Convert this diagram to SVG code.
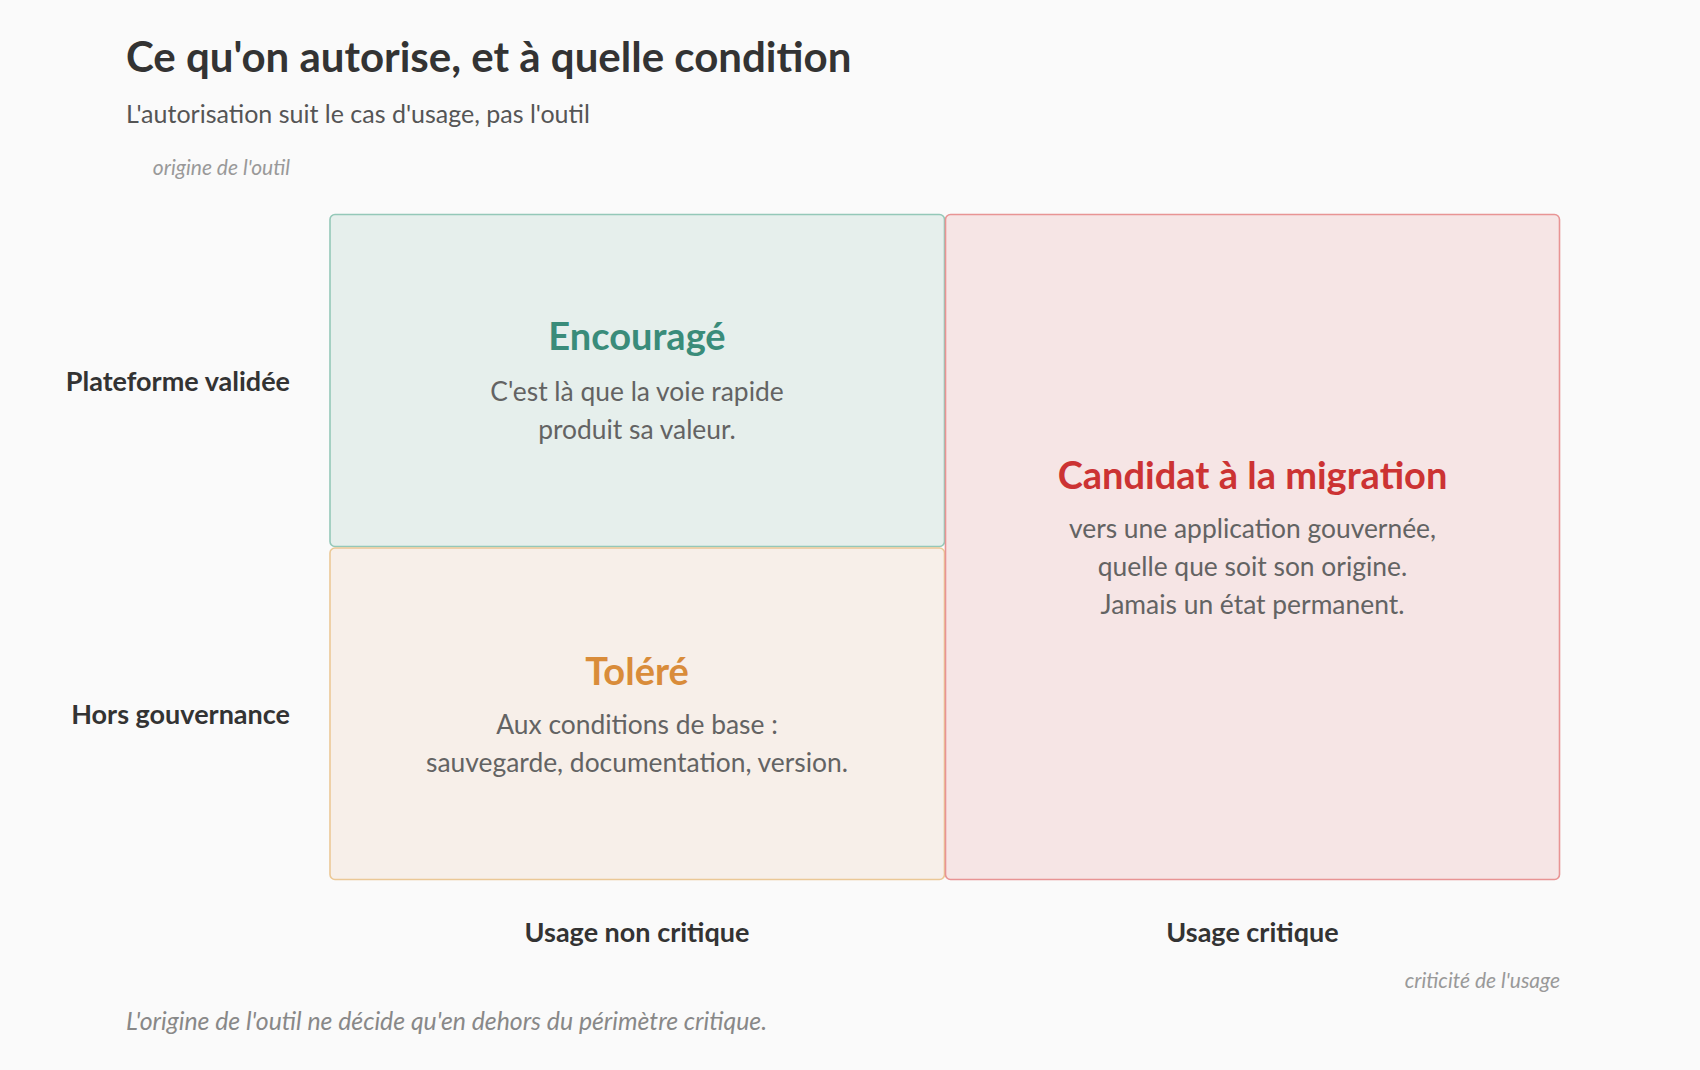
<svg xmlns="http://www.w3.org/2000/svg" width="1700" height="1070" viewBox="0 0 1700 1070">
<style>
text{font-family:Lato,"Noto Sans","Liberation Sans",sans-serif}
.title{font-size:42px;font-weight:700;fill:#333}
.sub{font-size:25px;fill:#555}
.axis{font-size:21px;font-style:italic;fill:#999}
.lab{font-size:27px;font-weight:700;fill:#333}
.ht{font-size:38px;font-weight:700;text-anchor:middle}
.body{font-size:26.4px;fill:#636363;text-anchor:middle}
.foot{font-size:24.8px;font-style:italic;fill:#888}
</style>
<rect width="1700" height="1070" fill="#fafafa"/>
<text class="title" x="126" y="71.5">Ce qu'on autorise, et à quelle condition</text>
<text class="sub" x="126" y="123">L'autorisation suit le cas d'usage, pas l'outil</text>
<text class="axis" x="290" y="175" text-anchor="end">origine de l'outil</text>
<g id="encourage">
<rect x="330" y="214.5" width="614.5" height="332" rx="5" fill="#e6efec" stroke="#94c8b8" stroke-width="1.6"/>
<text class="ht" x="637" y="350" fill="#3a8c7a">Encouragé</text>
<text class="body" x="637" y="401">C'est là que la voie rapide</text>
<text class="body" x="637" y="439">produit sa valeur.</text>
</g>
<g id="tolere">
<rect x="330" y="548" width="614.5" height="331.5" rx="5" fill="#f7efe9" stroke="#ebc896" stroke-width="1.6"/>
<text class="ht" x="637" y="685" fill="#d98c3a">Toléré</text>
<text class="body" x="637" y="734">Aux conditions de base :</text>
<text class="body" x="637" y="772">sauvegarde, documentation, version.</text>
</g>
<g id="candidat">
<rect x="945.5" y="214.5" width="614" height="665" rx="5" fill="#f6e5e5" stroke="#e89494" stroke-width="1.6"/>
<text class="ht" x="1252.5" y="489" fill="#cc3333">Candidat à la migration</text>
<text class="body" x="1252.5" y="538">vers une application gouvernée,</text>
<text class="body" x="1252.5" y="576">quelle que soit son origine.</text>
<text class="body" x="1252.5" y="614">Jamais un état permanent.</text>
</g>
<g id="labels">
<text class="lab" x="290" y="391" text-anchor="end">Plateforme validée</text>
<text class="lab" x="290" y="724" text-anchor="end">Hors gouvernance</text>
<text class="lab" x="637" y="942" text-anchor="middle">Usage non critique</text>
<text class="lab" x="1252.5" y="942" text-anchor="middle">Usage critique</text>
</g>
<g id="connectors"></g>
<text class="axis" x="1560" y="988" text-anchor="end">criticité de l'usage</text>
<text class="foot" x="126" y="1029.5">L'origine de l'outil ne décide qu'en dehors du périmètre critique.</text>
</svg>
